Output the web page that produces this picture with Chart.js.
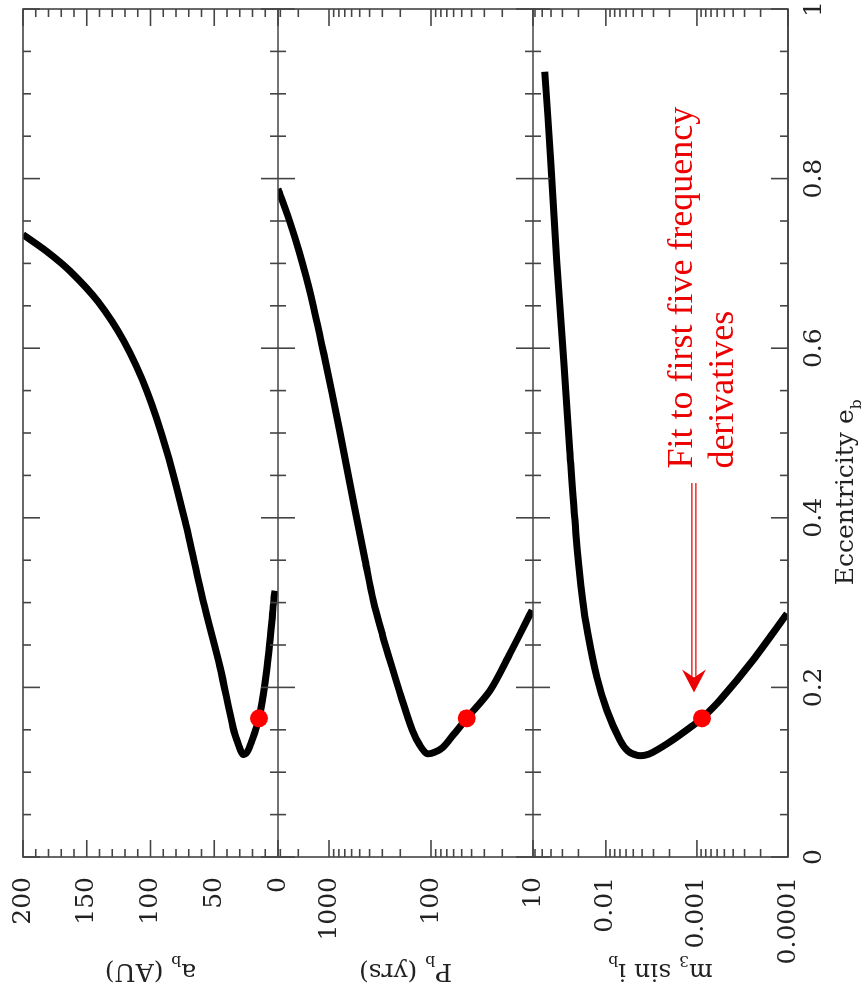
<!DOCTYPE html>
<html>
<head>
<meta charset="utf-8">
<title>Orbit solutions vs eccentricity</title>
<script src="https://cdn.jsdelivr.net/npm/chart.js@4.4.1/dist/chart.umd.min.js"></script>
<style>
  html, body { margin: 0; padding: 0; background: #fff; overflow: hidden; }
  /* the figure is drawn upright (eccentricity along the bottom) and then turned a quarter turn */
  #wrap { position: absolute; left: 0; top: 0; width: 995px; height: 867px;
          transform-origin: 0 0; transform: translateY(995px) rotate(-90deg); }
</style>
</head>
<body>
<div id="wrap"><canvas id="orbitChart" width="995" height="867"></canvas></div>
<script>
// Ticks
const eccTicks = [0, 0.2, 0.4, 0.6, 0.8, 1];
const eccLabels = ["0", "0.2", "0.4", "0.6", "0.8", "1"];
const auTicks = [0, 50, 100, 150, 200];
const auLabels = ["0", "50", "100", "150", "200"];
const yrTicks = [10, 100, 1000];
const yrLabels = ["10", "100", "1000"];
const massTicks = [0.0001, 0.001, 0.01];
const massLabels = ["0.0001", "0.001", "0.01"];

// a_b (AU) against e_b
const eccA = [0.734, 0.714, 0.691, 0.655, 0.608, 0.549, 0.478, 0.396, 0.302, 0.224, 0.153, 0.1306, 0.121, 0.1235, 0.134, 0.148, 0.1635, 0.205, 0.2435, 0.279, 0.306, 0.314];
const semiMajorAU = [200, 181.2, 163.1, 141.2, 120.8, 102.7, 87.1, 72.9, 58.8, 45.5, 35.3, 30.6, 27.5, 24.3, 21.2, 18.0, 14.9, 10.2, 7.06, 4.7, 3.14, 2.35];

// P_b (yrs) against e_b
const eccP = [0.788, 0.752, 0.714, 0.661, 0.591, 0.505, 0.414, 0.349, 0.302, 0.262, 0.226, 0.188, 0.149, 0.132, 0.122, 0.1235, 0.129, 0.146, 0.1635, 0.196, 0.240, 0.291];
const periodYr = [3162, 2466, 1963, 1496, 1114, 794, 565, 441, 367, 299, 244, 195, 152, 129, 110, 92.2, 76.9, 58.6, 44.7, 26.5, 16.8, 10.2];

// m_3 sin i_b against e_b
const eccM = [0.926, 0.820, 0.702, 0.585, 0.479, 0.383, 0.302, 0.264, 0.212, 0.173, 0.138, 0.125, 0.120, 0.120, 0.1235, 0.138, 0.155, 0.1635, 0.185, 0.232, 0.287];
const massSin = [0.04677, 0.04018, 0.03451, 0.02895, 0.02487, 0.02137, 0.01792, 0.0158, 0.01256, 0.00975, 0.00702, 0.00573, 0.00456, 0.003727, 0.00305, 0.00184, 0.00111, 0.000881, 0.000558, 0.000243, 0.0001026];

// the fitted solution (red dots)
const fitEcc = 0.1635;
const fitAU = 14.9;
const fitYr = 44.7;
const fitMass = 0.000881;

const SERIF = '"DejaVu Serif", serif';
const INK = "#222";
const FRAME = "#444";
const RED = "#f00";

const pts = (xs, ys) => xs.map((x, i) => ({ x: x, y: ys[i] }));

// texte avec indices
function drawRich(ctx, parts, x, y, size) {
    let w = 0;
    parts.forEach(p => {
        ctx.font = (p[1] ? size * 0.62 : size) + "px " + SERIF;
        w += ctx.measureText(p[0]).width;
    });
    let cx = x - w / 2;
    parts.forEach(p => {
        ctx.font = (p[1] ? size * 0.62 : size) + "px " + SERIF;
        ctx.fillText(p[0], cx, p[1] ? y + size * 0.3 : y);
        cx += ctx.measureText(p[0]).width;
    });
}

function seg(ctx, x1, y1, x2, y2) {
    ctx.beginPath();
    ctx.moveTo(x1, y1);
    ctx.lineTo(x2, y2);
    ctx.stroke();
}

// ticks on the panel value axes
function valueTicks(scale) {
    const out = [];
    if (scale.type === "logarithmic") {
        const lo = Math.floor(Math.log10(scale.min));
        const hi = Math.ceil(Math.log10(scale.max));
        for (let d = lo; d <= hi; d++) {
            for (let k = 1; k <= 9; k++) {
                const v = k * Math.pow(10, d);
                if (v >= scale.min * 0.999 && v <= scale.max * 1.001) out.push({ v: v, major: k === 1 });
            }
        }
    } else {
        for (let v = scale.min; v <= scale.max; v += 10) out.push({ v: v, major: v % 50 === 0 });
    }
    return out;
}

const framePlugin = {
    id: "panelFrame",
    afterDraw(chart) {
        const ctx = chart.ctx;
        const { left, right, top, bottom } = chart.chartArea;
        const xs = chart.scales.x;
        const panels = [chart.scales.ya, chart.scales.yp, chart.scales.ym];

        ctx.save();
        ctx.strokeStyle = FRAME;
        ctx.lineWidth = 1.6;
        ctx.strokeRect(left, top, right - left, bottom - top);
        panels.forEach(s => seg(ctx, left, s.bottom, right, s.bottom));

        // eccentricity ticks, top and bottom of every panel
        for (let i = 0; i <= 20; i++) {
            const px = xs.getPixelForValue(i * 0.05);
            const len = i % 4 === 0 ? 17 : 8;
            panels.forEach(s => {
                seg(ctx, px, s.top, px, s.top + len);
                seg(ctx, px, s.bottom, px, s.bottom - len);
            });
        }

        // value ticks, left and right of every panel
        panels.forEach(s => {
            valueTicks(s).forEach(t => {
                const py = s.getPixelForValue(t.v);
                const len = t.major ? 17 : 8;
                seg(ctx, left, py, left + len, py);
                seg(ctx, right, py, right - len, py);
            });
        });

        // axis titles
        ctx.fillStyle = INK;
        ctx.textAlign = "left";
        ctx.textBaseline = "alphabetic";
        drawRich(ctx, [["Eccentricity e"], ["b", true]], xs.getPixelForValue(0.43), 853, 25);
        const titles = [
            [["a"], ["b", true], [" (AU)"]],
            [["P"], ["b", true], [" (yrs)"]],
            [["m"], ["3", true], [" sin i"], ["b", true]]
        ];
        panels.forEach((s, i) => {
            ctx.save();
            ctx.translate(31, (s.top + s.bottom) / 2);
            ctx.rotate(-Math.PI / 2);
            drawRich(ctx, titles[i], 0, 0, 25);
            ctx.restore();
        });

        // annotation
        const ym = chart.scales.ym;
        const ay = ym.getPixelForValue(Math.pow(10, -2.967));
        const tipX = xs.getPixelForValue(0.194);
        const tailX = xs.getPixelForValue(0.441);
        ctx.fillStyle = "rgb(236,0,0)";
        ctx.font = '36px "Liberation Serif", serif';
        const tx = xs.getPixelForValue(0.458);
        ctx.fillText("Fit to first five frequency", tx, ay - 2);
        ctx.fillText("derivatives", tx, ay + 39);

        ctx.strokeStyle = "rgb(236,0,0)";
        ctx.lineWidth = 1.4;
        seg(ctx, tailX, ay - 2, tipX + 16, ay - 2);
        seg(ctx, tailX, ay + 2, tipX + 16, ay + 2);
        ctx.beginPath();
        ctx.moveTo(tipX, ay);
        ctx.lineTo(tipX + 23, ay - 12);
        ctx.lineTo(tipX + 15, ay);
        ctx.lineTo(tipX + 23, ay + 12);
        ctx.closePath();
        ctx.fill();
        ctx.restore();
    }
};

function panelAxis(type, min, max, tickVals, tickText) {
    return {
        type: type,
        min: min,
        max: max,
        position: "left",
        stack: "panels",
        stackWeight: 1,
        grid: { display: false, drawTicks: false },
        border: { display: false },
        ticks: {
            autoSkip: false,
            padding: 20,
            color: INK,
            font: { family: SERIF, size: 25 },
            callback: v => {
                const i = tickVals.indexOf(v);
                return i < 0 ? "" : tickText[i];
            }
        },
        afterBuildTicks: s => { s.ticks = tickVals.map(v => ({ value: v })); },
        afterFit: s => { s.width = 138; s.paddingTop = 0; s.paddingBottom = 0; }
    };
}

const lineSet = (xs, ys, axis) => ({
    data: pts(xs, ys),
    yAxisID: axis,
    showLine: true,
    borderColor: "#000",
    borderWidth: 7,
    borderJoinStyle: "round",
    pointRadius: 0,
    tension: 0.3,
    order: 2
});

const dotSet = (x, y, axis) => ({
    data: [{ x: x, y: y }],
    yAxisID: axis,
    pointRadius: 9,
    pointBackgroundColor: RED,
    pointBorderWidth: 0,
    order: 1
});

new Chart(document.getElementById("orbitChart"), {
    type: "scatter",
    data: {
        datasets: [
            lineSet(eccA, semiMajorAU, "ya"),
            lineSet(eccP, periodYr, "yp"),
            lineSet(eccM, massSin, "ym"),
            dotSet(fitEcc, fitAU, "ya"),
            dotSet(fitEcc, fitYr, "yp"),
            dotSet(fitEcc, fitMass, "ym")
        ]
    },
    options: {
        responsive: false,
        animation: false,
        events: [],
        layout: { padding: { top: 23, right: 7, bottom: 0, left: 0 } },
        plugins: { legend: { display: false }, tooltip: { enabled: false } },
        scales: {
            x: {
                type: "linear",
                min: 0,
                max: 1,
                position: "bottom",
                grid: { display: false, drawTicks: false },
                border: { display: false },
                ticks: {
                    autoSkip: false,
                    maxRotation: 0,
                    padding: 11,
                    color: INK,
                    font: { family: SERIF, size: 25 },
                    callback: v => {
                        const i = eccTicks.indexOf(v);
                        return i < 0 ? "" : eccLabels[i];
                    }
                },
                afterBuildTicks: s => { s.ticks = eccTicks.map(v => ({ value: v })); },
                afterFit: s => { s.height = 79; s.paddingLeft = 0; s.paddingRight = 0; }
            },
            ym: panelAxis("logarithmic", 0.0001, Math.pow(10, -1.2), massTicks, massLabels),
            yp: panelAxis("logarithmic", 10, Math.pow(10, 3.5), yrTicks, yrLabels),
            ya: panelAxis("linear", 0, 200, auTicks, auLabels)
        }
    },
    plugins: [framePlugin]
});
</script>
</body>
</html>
